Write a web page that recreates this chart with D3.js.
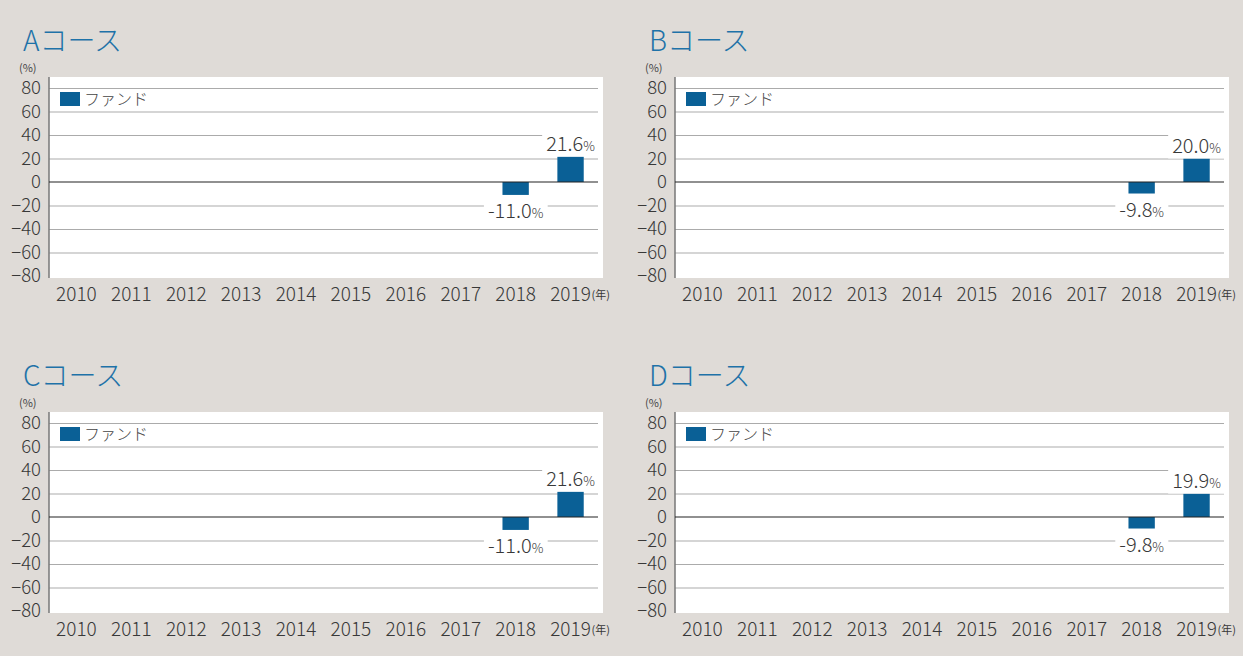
<!DOCTYPE html>
<html>
<head>
<meta charset="utf-8">
<script src="https://cdn.jsdelivr.net/npm/d3@7"></script>
<style>
  body { margin: 0; background: #dfdbd7; }
  svg { display: block; }
  text { font-family: "Noto Sans CJK JP", "Noto Sans", sans-serif; }
</style>
</head>
<body>
<svg id="chart" width="1243" height="656"></svg>
<script>
// data
const years = ["2010", "2011", "2012", "2013", "2014", "2015", "2016", "2017", "2018", "2019"];
const courses = ["Aコース", "Bコース", "Cコース", "Dコース"];
const fundA = [null, null, null, null, null, null, null, null, -11.0, 21.6];
const fundB = [null, null, null, null, null, null, null, null, -9.8, 20.0];
const fundC = [null, null, null, null, null, null, null, null, -11.0, 21.6];
const fundD = [null, null, null, null, null, null, null, null, -9.8, 19.9];
const yTicks = [80, 60, 40, 20, 0, -20, -40, -60, -80];
const legendLabel = "ファンド";

const seriesList = [fundA, fundB, fundC, fundD];
const origins = [[0, 0], [626, 0], [0, 335], [626, 335]];

const barColor = "#0a6096";
const textColor = "#383838";
const svg = d3.select("#chart");

function drawPanel(i) {
  const [ox, oy] = origins[i];
  const values = seriesList[i];
  const g = svg.append("g").attr("transform", `translate(${ox},${oy})`);

  const x = d3.scaleBand().domain(years).range([49, 598]).paddingInner(0.52).paddingOuter(0.26);
  const xc = d3.scaleBand().domain(years).range([49, 598]);
  const y = d3.scaleLinear().domain([-80, 80]).range([276, 88]);

  // title
  g.append("text").attr("x", 23).attr("y", 51)
    .attr("font-size", 28).attr("font-weight", 300).attr("fill", "#1e72a8")
    .text(courses[i]);
  g.append("text").attr("x", 19).attr("y", 72)
    .attr("font-size", 11).attr("fill", "#444").text("(%)");

  // plot background
  g.append("rect").attr("x", 49).attr("y", 77).attr("width", 554).attr("height", 201).attr("fill", "#fff");

  // grid
  g.append("g").attr("transform", "translate(49,0)")
    .call(d3.axisLeft(y).tickValues(yTicks.filter(d => d !== 0 && d !== -80)).tickSize(-549).tickFormat(""))
    .call(s => s.select(".domain").remove())
    .call(s => s.selectAll("line").attr("stroke", "#ababab").attr("stroke-width", 1.2));

  // y labels
  g.append("g").attr("transform", "translate(49,0)")
    .call(d3.axisLeft(y).tickValues(yTicks).tickSize(0).tickPadding(8))
    .call(s => s.select(".domain").remove())
    .call(s => s.selectAll("text").attr("font-size", 18.5).attr("fill", textColor)
      .attr("font-family", "'Noto Sans', sans-serif").attr("font-weight", 300));

  // left axis line
  g.append("line").attr("x1", 49).attr("x2", 49).attr("y1", 77).attr("y2", 278)
    .attr("stroke", "#777").attr("stroke-width", 1.5);

  // bars
  const data = years.map((yr, k) => ({ yr, v: values[k] })).filter(d => d.v != null);
  g.selectAll(".bar").data(data).enter().append("rect")
    .attr("x", d => x(d.yr))
    .attr("y", d => y(Math.max(0, d.v)))
    .attr("width", x.bandwidth())
    .attr("height", d => Math.abs(y(d.v) - y(0)))
    .attr("fill", barColor);

  // zero line
  g.append("line").attr("x1", 49).attr("x2", 598).attr("y1", y(0)).attr("y2", y(0))
    .attr("stroke", "#222").attr("stroke-width", 1.2);

  // value labels with white boxes
  data.forEach(d => {
    const cx = xc(d.yr) + xc.bandwidth() / 2;
    const ty = d.v >= 0 ? y(d.v) - 6 : y(d.v) + 23;
    const lab = g.append("g");
    const t = lab.append("text").attr("x", cx).attr("y", ty).attr("text-anchor", "middle")
      .attr("font-family", "'Noto Sans', sans-serif").attr("font-weight", 300)
      .attr("fill", textColor).attr("font-size", 20);
    t.append("tspan").text(d.v.toFixed(1));
    t.append("tspan").attr("font-size", 13).text("%");
    const bb = t.node().getBBox();
    lab.insert("rect", "text").attr("x", bb.x - 4).attr("y", bb.y + 2)
      .attr("width", bb.width + 8).attr("height", bb.height - 2).attr("fill", "#fff");
  });

  // x labels
  g.selectAll(".xl").data(years).enter().append("text")
    .attr("x", d => xc(d) + xc.bandwidth() / 2).attr("y", 301)
    .attr("text-anchor", "middle").attr("font-size", 19)
    .attr("font-family", "'Noto Sans', sans-serif").attr("font-weight", 300)
    .attr("fill", textColor).text(d => d);
  g.append("text").attr("x", xc("2019") + xc.bandwidth() / 2 + 21).attr("y", 299)
    .attr("font-size", 11).attr("fill", textColor).text("(年)");

  // legend
  g.append("rect").attr("x", 60).attr("y", 92).attr("width", 20).attr("height", 14).attr("fill", barColor);
  g.append("text").attr("x", 84).attr("y", 105).attr("font-size", 16).attr("fill", "#444")
    .attr("font-weight", 300).text(legendLabel);
}

courses.forEach((c, i) => drawPanel(i));
</script>
</body>
</html>
